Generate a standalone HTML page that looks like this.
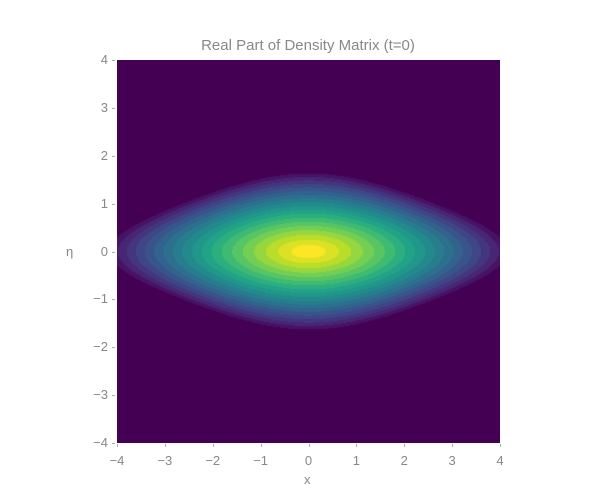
<!DOCTYPE html>
<html><head><meta charset="utf-8"><style>
body{margin:0;background:#fff;width:600px;height:500px;overflow:hidden;font-family:"Liberation Sans","DejaVu Sans",sans-serif}
#wrap{position:relative;width:600px;height:500px}
canvas{position:absolute;left:117px;top:60px}
.t{position:absolute;color:#888;font-size:13px}
</style></head><body>
<div id="wrap">
<div class="t" style="left:0;width:616px;top:37px;text-align:center;font-size:15px">Real Part of Density Matrix (t=0)</div>
<canvas id="c" width="383" height="383"></canvas>
<div class="t" style="left:304px;top:472px">x</div>
<div class="t" style="left:66px;top:244px">η</div>
<div id="ticks"></div>
</div>
<script>
const xTicks=[-4,-3,-2,-1,0,1,2,3,4];
const yTicks=[-4,-3,-2,-1,0,1,2,3,4];
const xRange=[-4,4];
const etaRange=[-4,4];
const fieldCoeffs=[0.0529,0.346,0.03]; // x^2, eta^2, x^2*eta^2
const fieldExponent=[0.6];
const levelCount=[20];
const vir=[[68,1,84],[72,35,116],[64,67,135],[52,94,141],[41,120,142],[32,144,140],[34,167,132],[68,190,112],[121,209,81],[189,222,38],[253,231,37]];
function viridis(t){const s=t*(vir.length-1),i=Math.min(Math.floor(s),vir.length-2),f=s-i;
return vir[i].map((v,k)=>Math.round(v+(vir[i+1][k]-v)*f));}
const W=383,H=383;
const sx=v=>117+(v-xRange[0])/(xRange[1]-xRange[0])*W;
const sy=v=>60+(etaRange[1]-v)/(etaRange[1]-etaRange[0])*H;
const ctx=document.getElementById('c').getContext('2d');
const img=ctx.createImageData(W,H);
const n=levelCount[0];
for(let j=0;j<H;j++){const eta=etaRange[1]-(j+0.5)/H*(etaRange[1]-etaRange[0]);
for(let i=0;i<W;i++){const x=xRange[0]+(i+0.5)/W*(xRange[1]-xRange[0]);
const g=fieldCoeffs[0]*x*x+fieldCoeffs[1]*eta*eta+fieldCoeffs[2]*x*x*eta*eta;
const f=Math.max(0,1-Math.pow(g,fieldExponent[0]));
const b=Math.min(n-1,Math.floor(f*n));const c=viridis(b/(n-1));const p=(j*W+i)*4;
img.data[p]=c[0];img.data[p+1]=c[1];img.data[p+2]=c[2];img.data[p+3]=255;}}
ctx.putImageData(img,0,0);
const tk=document.getElementById('ticks');
const fmt=v=>v<0?'−'+(-v):''+v;
xTicks.forEach(v=>{const d=document.createElement('div');d.className='t';


d.style.left=(sx(v)-20)+'px';d.style.width='40px';d.style.textAlign='center';d.style.top='453px';d.textContent=fmt(v);tk.appendChild(d);
const m=document.createElement('div');


m.style.cssText='position:absolute;width:1px;height:3px;background:#aaa;top:444px;left:'+sx(v)+'px';tk.appendChild(m);});
yTicks.forEach(v=>{const d=document.createElement('div');d.className='t';


d.style.left='60px';d.style.width='48px';d.style.textAlign='right';d.style.top=(sy(v)-8)+'px';d.textContent=fmt(v);tk.appendChild(d);
const m=document.createElement('div');


m.style.cssText='position:absolute;width:3px;height:1px;background:#aaa;left:112px;top:'+sy(v)+'px';tk.appendChild(m);});
</script>
</body></html>
